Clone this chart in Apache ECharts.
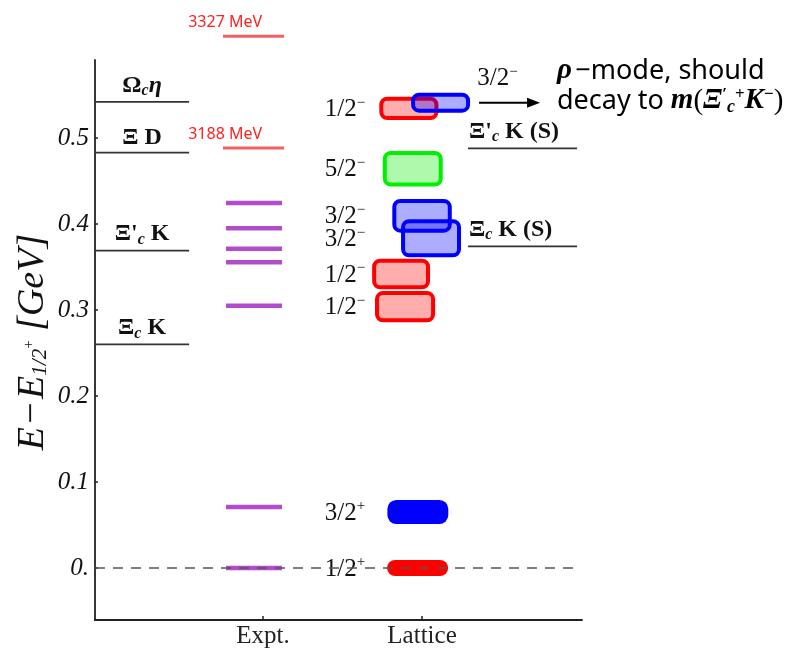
<!DOCTYPE html>
<html><head><meta charset="utf-8">
<script src="https://cdn.jsdelivr.net/npm/echarts@6/dist/echarts.min.js"></script>
</head><body style="margin:0;background:#fff">
<div id="c" style="width:792px;height:651px"></div>
<script>
// ---- data ----
const xCategories = ['Expt.', 'Lattice'];            // placed at x = 1 and x = 2
const yTicks = [0, 0.1, 0.2, 0.3, 0.4, 0.5];
const yTickLabels = ['0.', '0.1', '0.2', '0.3', '0.4', '0.5'];

// thresholds (GeV above 1/2+)
const thresholdLabels = ['{b|Ω}{bs|c}{bi|η}', '{b|Ξ D}', "{b|Ξ'}{bs|c}{b| K}", '{b|Ξ}{bs|c}{b| K}', "{b|Ξ'}{bs|c}{b| K (S)}", '{b|Ξ}{bs|c}{b| K (S)}'];
const thresholdE = [0.542, 0.483, 0.369, 0.260, 0.488, 0.374];
const thresholdSide = ['L', 'L', 'L', 'L', 'R', 'R'];

// experiment levels
const exptE = [0, 0.0709, 0.305, 0.3555, 0.3713, 0.395, 0.4244];
const exptNewE = [0.4884, 0.6183];
const exptNewLabels = ['3188 MeV', '3327 MeV'];

// lattice levels (draw order)
const latticeJP = ['1/2+', '3/2+', '1/2-', '1/2-', '3/2-', '3/2-', '5/2-', '1/2-', '3/2-'];
const latticeE = [0.000, 0.0651, 0.3038, 0.3419, 0.4095, 0.3834, 0.4642, 0.5345, 0.541];
const latticeErr = [0.0093, 0.0140, 0.0182, 0.0178, 0.0196, 0.0221, 0.0207, 0.0136, 0.0116];

// ---- layout (horizontal placement, axis units) ----
const X_MIN = -0.057, X_MAX = 3.006;
const leftThrX = [X_MIN, 0.535], rightThrX = [2.289, 2.975];
const exptX = [0.767, 1.119], exptNewX = [0.748, 1.132], exptNewLabelX = 0.994;
const boxX0 = [1.780, 1.782, 1.704, 1.686, 1.813, 1.868, 1.753, 1.731, 1.931];
const boxX1 = [2.164, 2.165, 2.082, 2.050, 2.187, 2.245, 2.130, 2.103, 2.302];
const jpLabelX = 1.642;

const SERIF = '"Liberation Serif", "DejaVu Serif", serif';
const SANS = '"Noto Sans", "Open Sans", sans-serif';

const colorOf = jp => jp.startsWith('1/2') ? '#ff0000' : jp.startsWith('3/2') ? '#0000ff' : '#00f000';
const fillOf = jp => jp.startsWith('1/2') ? 'rgba(255,0,0,0.32)' : jp.startsWith('3/2') ? 'rgba(0,0,255,0.32)' : 'rgba(0,240,0,0.32)';
const jpRich = jp => '{n|' + jp.slice(0, 3) + '}{s|' + (jp[3] === '+' ? '+' : '−') + '}';
const jpStyles = {
  n: {fontFamily: SERIF, fontSize: 25, fill: '#111'},
  s: {fontFamily: SERIF, fontSize: 15, fill: '#111', padding: [0, 0, 13, 0]}
};
const thrStyles = {
  b: {fontFamily: SERIF, fontWeight: 'bold', fontSize: 24, fill: '#111'},
  bi: {fontFamily: SERIF, fontWeight: 'bold', fontStyle: 'italic', fontSize: 24, fill: '#111'},
  bs: {fontFamily: SERIF, fontWeight: 'bold', fontStyle: 'italic', fontSize: 16, fill: '#111', padding: [11, 0, 0, 0]}
};

const chart = echarts.init(document.getElementById('c'), null, {renderer: 'canvas'});

const option = {
  animation: false,
  backgroundColor: '#fff',
  grid: {left: 95, right: 210, top: 60, bottom: 31, containLabel: false},
  xAxis: {
    type: 'value', min: X_MIN, max: X_MAX,
    splitLine: {show: false},
    axisLine: {onZero: false, lineStyle: {color: '#222', width: 1.8}},
    axisTick: {inside: true, length: 4, customValues: [1, 2], lineStyle: {color: '#222', width: 1.5}},
    axisLabel: {customValues: [1, 2], formatter: v => xCategories[Math.round(v) - 1] || '',
      fontFamily: SERIF, fontSize: 25, color: '#222', margin: 4}
  },
  yAxis: {
    type: 'value', min: -0.0605, max: 0.5907,
    splitLine: {show: false},
    axisLine: {onZero: false, lineStyle: {color: '#222', width: 1.8}},
    axisTick: {inside: true, length: 3, customValues: yTicks, lineStyle: {color: '#222', width: 1.5}},
    axisLabel: {customValues: yTicks, formatter: v => yTickLabels[yTicks.findIndex(t => Math.abs(t - v) < 1e-6)] || '',
      fontFamily: SERIF, fontStyle: 'italic', fontSize: 25, color: '#111', margin: 6}
  },
  graphic: [
    {type: 'text', x: 33, y: 342, rotation: Math.PI / 2,
     style: {text: '{i|E} {r|−} {i|E}{sb|1/2}{sp|+}{i| [GeV]}', align: 'center', verticalAlign: 'middle',
       rich: {
         i: {fontFamily: SERIF, fontStyle: 'italic', fontSize: 38, fill: '#111'},
         r: {fontFamily: SERIF, fontSize: 38, fill: '#111'},
         sb: {fontFamily: SERIF, fontStyle: 'italic', fontSize: 21, fill: '#111', padding: [14, 0, 0, 0]},
         sp: {fontFamily: SERIF, fontSize: 15, fill: '#111', padding: [0, 0, 8, 0]}
       }}},
    {type: 'text', x: 557, y: 71,
     style: {text: '{rho|ρ} {t|−mode, should}', align: 'left', verticalAlign: 'middle',
       rich: {
         rho: {fontFamily: SERIF, fontWeight: 'bold', fontStyle: 'italic', fontSize: 29, fill: '#000'},
         t: {fontFamily: SANS, fontSize: 27, fill: '#000'}
       }}},
    {type: 'text', x: 557, y: 101,
     style: {text: '{t|decay to }{mi|m}{p|(}{mi|Ξ}{sp|′}{sb|c}{sp|+}{mi|K}{sp|−}{p|)}', align: 'left', verticalAlign: 'middle',
       rich: {
         t: {fontFamily: SANS, fontSize: 27, fill: '#000'},
         mi: {fontFamily: SERIF, fontWeight: 'bold', fontStyle: 'italic', fontSize: 29, fill: '#000'},
         p: {fontFamily: SERIF, fontSize: 29, fill: '#000'},
         sb: {fontFamily: SERIF, fontWeight: 'bold', fontStyle: 'italic', fontSize: 18, fill: '#000', padding: [12, 0, 0, 0]},
         sp: {fontFamily: SERIF, fontWeight: 'bold', fontSize: 17, fill: '#000', padding: [0, 0, 13, 0]}
       }}}
  ],
  series: [
    { // thresholds
      type: 'custom', clip: false, z: 2,
      data: thresholdE.map((e, i) => thresholdSide[i] === 'L' ? [leftThrX[0], leftThrX[1], e] : [rightThrX[0], rightThrX[1], e]),
      renderItem: (params, api) => {
        const i = params.dataIndex;
        const a = api.coord([api.value(0), api.value(2)]);
        const b = api.coord([api.value(1), api.value(2)]);
        const left = thresholdSide[i] === 'L';
        return {type: 'group', children: [
          {type: 'line', shape: {x1: a[0], y1: a[1], x2: b[0], y2: b[1]}, style: {stroke: '#333', lineWidth: 1.8}},
          {type: 'text', x: left ? (a[0] + b[0]) / 2 : a[0] + 1, y: a[1] - 3,
           style: {text: thresholdLabels[i], align: left ? 'center' : 'left', verticalAlign: 'bottom', rich: thrStyles}}
        ]};
      }
    },
    { // expt levels
      type: 'custom', clip: false, z: 2,
      data: exptE.map(e => [exptX[0], exptX[1], e]),
      renderItem: (params, api) => {
        const a = api.coord([api.value(0), api.value(2)]);
        const b = api.coord([api.value(1), api.value(2)]);
        return {type: 'line', shape: {x1: a[0], y1: a[1], x2: b[0], y2: b[1]}, style: {stroke: '#b24ccc', lineWidth: 4.5}};
      }
    },
    { // new expt levels
      type: 'custom', clip: false, z: 2,
      data: exptNewE.map(e => [exptNewX[0], exptNewX[1], e]),
      renderItem: (params, api) => {
        const i = params.dataIndex;
        const a = api.coord([api.value(0), api.value(2)]);
        const b = api.coord([api.value(1), api.value(2)]);
        const lx = api.coord([exptNewLabelX, api.value(2)])[0];
        return {type: 'group', children: [
          {type: 'line', shape: {x1: a[0], y1: a[1], x2: b[0], y2: b[1]}, style: {stroke: '#f26060', lineWidth: 3}},
          {type: 'text', x: lx, y: a[1] - 6,
           style: {text: exptNewLabels[i], align: 'right', verticalAlign: 'bottom', fontFamily: SANS, fontSize: 16, fill: '#ff2020'}}
        ]};
      }
    },
    { // lattice boxes
      type: 'custom', clip: false, z: 3,
      data: latticeE.map((e, i) => [boxX0[i], boxX1[i], e, latticeErr[i]]),
      renderItem: (params, api) => {
        const i = params.dataIndex;
        const jp = latticeJP[i];
        const e = api.value(2), d = api.value(3);
        const a = api.coord([api.value(0), e + d]);
        const b = api.coord([api.value(1), e - d]);
        const solid = jp[3] === '+';
        const ins = solid ? 0 : 2;
        const children = [{
          type: 'rect',
          shape: {x: a[0] + ins, y: a[1] + ins, width: b[0] - a[0] - 2 * ins, height: b[1] - a[1] - 2 * ins, r: solid ? 9 : 6},
          style: solid ? {fill: colorOf(jp)} : {fill: fillOf(jp), stroke: colorOf(jp), lineWidth: 4}
        }];
        const cy = (a[1] + b[1]) / 2;
        if (i === latticeE.length - 1) {
          const x0 = b[0] + 9, x1 = b[0] + 70;
          children.push(
            {type: 'line', shape: {x1: x0, y1: cy, x2: x1 - 8, y2: cy}, style: {stroke: '#000', lineWidth: 2}},
            {type: 'polygon', shape: {points: [[x1, cy], [x1 - 13, cy - 5], [x1 - 13, cy + 5]]}, style: {fill: '#000'}},
            {type: 'text', x: (x0 + x1) / 2 - 12, y: cy - 10, style: {text: jpRich(jp), align: 'center', verticalAlign: 'bottom', rich: jpStyles}}
          );
        } else {
          const lx = api.coord([jpLabelX, e])[0];
          children.push({type: 'text', x: lx, y: cy + 1, style: {text: jpRich(jp), align: 'right', verticalAlign: 'middle', rich: jpStyles}});
        }
        return {type: 'group', children};
      }
    },
    { // zero reference dashed line
      type: 'custom', clip: false, z: 10,
      data: [[X_MIN, X_MAX - 0.03, 0]],
      renderItem: (params, api) => {
        const a = api.coord([api.value(0), api.value(2)]);
        const b = api.coord([api.value(1), api.value(2)]);
        return {type: 'line', shape: {x1: a[0], y1: a[1], x2: b[0], y2: b[1]},
          style: {stroke: '#555', lineWidth: 1.4, lineDash: [10, 8]}};
      }
    }
  ]
};
chart.setOption(option);
</script>
</body></html>
